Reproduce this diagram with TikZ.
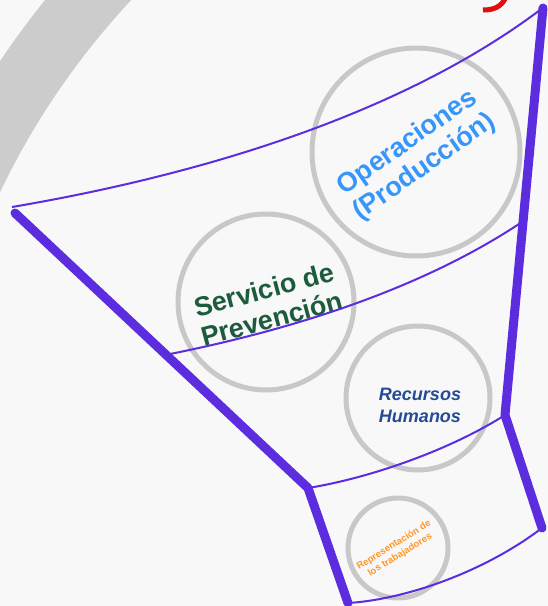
\documentclass[tikz,border=0pt]{standalone}
\usepackage{fontspec}
\setmainfont{Liberation Sans}
\definecolor{funnel}{RGB}{92,45,222}
\definecolor{ringgray}{RGB}{200,200,200}
\definecolor{bandgray}{RGB}{204,204,204}
\definecolor{bgcol}{RGB}{248,248,248}
\definecolor{opsblue}{RGB}{55,150,250}
\definecolor{prevgreen}{RGB}{28,92,60}
\definecolor{rrhhblue}{RGB}{35,75,150}
\definecolor{reporange}{RGB}{255,150,40}
\definecolor{titlered}{RGB}{228,12,12}
\tikzset{
  ring/.style={circle, draw=ringgray, line width=5pt, inner sep=0pt},
  thickline/.style={draw=funnel, line width=9pt, line cap=round, line join=round},
  thinline/.style={draw=funnel, line width=2pt},
  lbl/.style={align=center, inner sep=0pt}
}
\begin{document}
\begin{tikzpicture}[x=1pt,y=-1pt]
\useasboundingbox (0,0) rectangle (548,606);
\fill[bgcol] (0,0) rectangle (548,606);
\begin{scope}
\clip (0,0) rectangle (548,606);
% grey arc band
\coordinate (bandc) at (688,521);
\draw[bandgray, line width=65pt] (bandc) ++(195:795) arc[start angle=195, end angle=240, radius=795];
% red title fragment
\draw[titlered, line width=5pt] (505,-1) .. controls (501,6) and (495,10) .. (483,10);
\end{scope}
% circles
\node[ring, minimum size=208pt] (ops) at (416,152) {};
\node[ring, minimum size=176pt] (prev) at (266,302) {};
\node[ring, minimum size=144pt] (rrhh) at (418,398) {};
\node[ring, minimum size=100pt] (rep) at (398,548) {};
% labels
\node[lbl, rotate=35, text=opsblue, font=\bfseries\fontsize{27}{30}\selectfont] (opst) at (416,155) {Operaciones\\(Producción)};
\node[lbl, rotate=15, text=prevgreen, font=\bfseries\fontsize{27}{30}\selectfont] (prevt) at (268,304) {Servicio de\\Prevención};
\node[lbl, text=rrhhblue, font=\bfseries\itshape\fontsize{18}{22}\selectfont] (rrhht) at (420,405) {Recursos\\Humanos};
\node[lbl, rotate=32, text=reporange, font=\bfseries\fontsize{9.5}{11.5}\selectfont] (rept) at (397,550) {Representación de\\los trabajadores};
% funnel corners
\coordinate (lt) at (15,213);
\coordinate (lm) at (308,488);
\coordinate (lb) at (348,603);
\coordinate (rt) at (543,8);
\coordinate (rm) at (505,415);
\coordinate (rb) at (542,528);
\coordinate (c1l) at (12,207);
\coordinate (c1r) at (540,10);
\coordinate (c2l) at (170,354);
\coordinate (c2r) at (522,222);
% thin level curves
\draw[thinline] (c1l) .. controls (200,175) and (400,115) .. (c1r);
\draw[thinline] (c2l) .. controls (290,330) and (420,290) .. (c2r);
\draw[thinline] (lm) .. controls (370,478) and (450,450) .. (rm);
\draw[thinline] (lb) .. controls (400,600) and (480,575) .. (rb);
% thick funnel sides
\draw[thickline] (lt) -- (lm) -- (lb);
\draw[thickline] (rt) -- (rm) -- (rb);
\end{tikzpicture}
\end{document}
